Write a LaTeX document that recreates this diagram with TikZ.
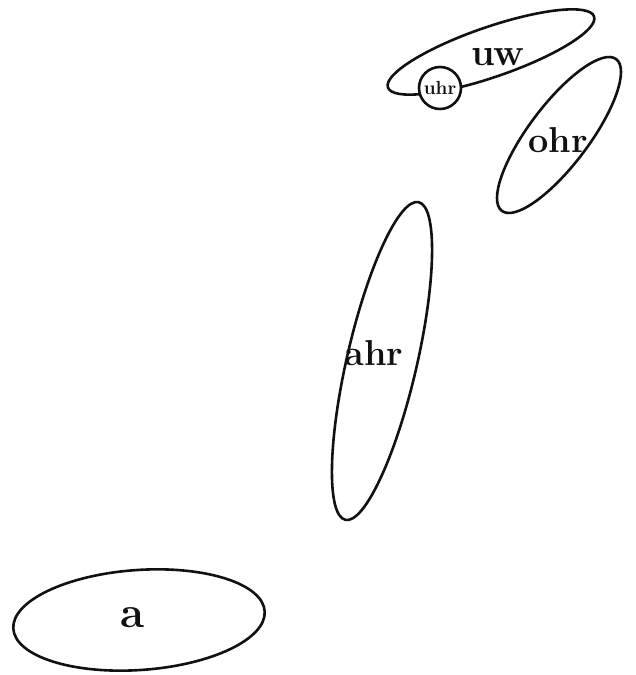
\documentclass[tikz,border=0pt]{standalone}
\usetikzlibrary{shapes.geometric, positioning, calc}
\definecolor{cink}{HTML}{111111}
\tikzset{
  every picture/.style={line width=2.6pt},
  ring/.style={draw=cink, ellipse, line width=2.6pt, inner sep=0pt, outer sep=0pt},
  dot/.style={draw=cink, fill=white, circle, line width=2.6pt, inner sep=0pt, outer sep=0pt},
  lbl/.style={font=\fontsize{#1}{#1}\selectfont\bfseries, text=cink, inner sep=0pt},
  lbl/.default=36,
}

\begin{document}
\begin{tikzpicture}[x=1pt, y=1pt]
  \useasboundingbox (0,0) rectangle (636,675);
  % the rings
  \node[ring, minimum width=252pt, minimum height=100pt, rotate=4] (a) at (139,55) {};
  \node[ring, minimum width=326pt, minimum height=70pt, rotate=77] (ahr) at (382,314) {};
  \node[ring, minimum width=190pt, minimum height=60pt, rotate=53] (ohr) at (559,540) {};
  \node[ring, minimum width=218pt, minimum height=50pt, rotate=19] (uw) at (491,623) {};
  \node[dot, minimum size=42pt] (uhr) at (440,587) {};
  % labels
  \node[lbl=44] (ta) at ($(a.center)+(-6,2)$) {a};
  \node[lbl] (tahr) at ($(ahr.center)+(-8,8)$) {ahr};
  \node[lbl] (tohr) at ($(ohr.center)+(-1,-5)$) {ohr};
  \node[lbl=38] (tuw) at ($(uw.center)+(7,-5)$) {uw};
  \node[lbl=19] (tuhr) at (uhr.center) {uhr};
\end{tikzpicture}
\end{document}
